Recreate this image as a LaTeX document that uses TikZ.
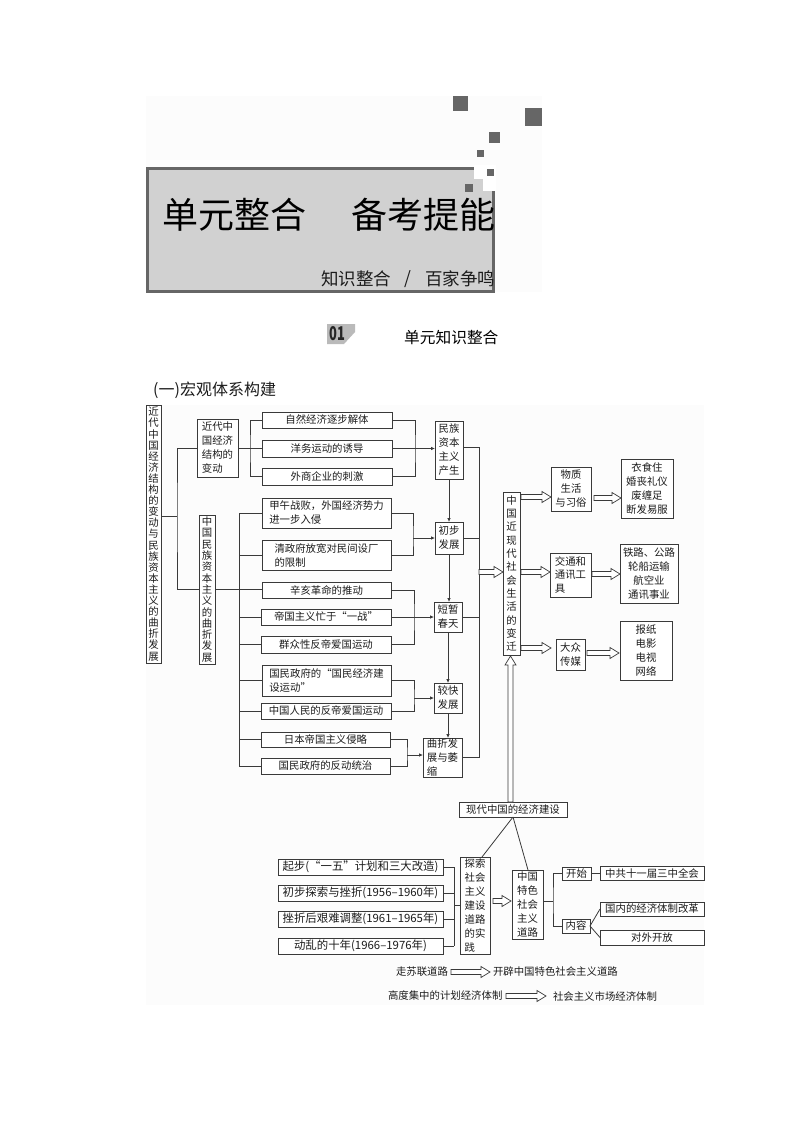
\documentclass[tikz,border=0pt]{standalone}
\usepackage{fontspec}
\setmainfont{Noto Sans CJK SC}
\usetikzlibrary{arrows.meta,calc}
\definecolor{ink}{HTML}{1C1C1C}
\definecolor{bord}{HTML}{3A3A3A}
\definecolor{sq}{HTML}{666666}
\tikzset{
  kb/.style={draw=bord,line width=.9pt,fill=white,inner sep=0pt,outer sep=0pt,align=center,text=ink,font=\fontsize{10.4}{14}\selectfont},
  vt/.style={font=\fontsize{10.4}{#1}\selectfont},
  wd/.style={font=\fontsize{11.4}{14}\selectfont},
  lab/.style={inner sep=0pt,outer sep=0pt,text=ink,font=\fontsize{10.4}{13}\selectfont},
  ln/.style={draw=bord,line width=.8pt},
  ar/.style={ln,-{Latex[length=4pt,width=3.6pt]}},
  hol/.style={draw=bord,line width=.7pt,fill=white},
  sqr/.style={fill=sq,draw=none}
}
\newcommand\kbox[7][]{\node[kb,minimum width={(#4-#2)*1pt},minimum height={(#5-#3)*1pt},#1] (#6) at ({(#2+#4)/2},{(#3+#5)/2}) {#7};}
\newcommand\harrow[2]{\draw[hol] let \p1=(#1),\p2=(#2),\n1={atan2(\y2-\y1,\x2-\x1)},\n2={veclen(\x2-\x1,\y2-\y1)} in [shift={(\p1)},rotate=\n1] (0pt,2.5pt) -- ({\n2*1pt-9pt},2.5pt) -- ({\n2*1pt-9pt},5.5pt) -- ({\n2*1pt},0pt) -- ({\n2*1pt-9pt},-5.5pt) -- ({\n2*1pt-9pt},-2.5pt) -- (0pt,-2.5pt) -- cycle;}
\begin{document}
\begin{tikzpicture}[x=1pt,y=-1pt]
\useasboundingbox (0,0) rectangle (794,1123);
\fill[white] (0,0) rectangle (794,1123);
\fill[black!1] (146,96) rectangle (542,292);
\fill[black!1] (146,405) rectangle (704,1005);
% banner
\draw[draw=sq,line width=3pt,fill=black!18] (147,168.5) rectangle (493.5,291.5);
\fill[white] (474,165) rectangle (496,179);
\fill[white] (483,179) rectangle (496,191);
\fill[sqr] (453,96) rectangle (468,111);
\fill[sqr] (525,108) rectangle (542,126);
\fill[sqr] (489,132) rectangle (500,143);
\fill[sqr] (477,150) rectangle (484,157);
\fill[sqr] (487,169) rectangle (494,176);
\fill[sqr] (465,184) rectangle (473,192);
\node[anchor=west,inner sep=0pt,text=black,font=\fontsize{36}{36}\selectfont] (title) at (162,215) {单元整合\hspace{45pt}备考提能};
\node[anchor=west,inner sep=0pt,text=ink,font=\fontsize{17.5}{18}\selectfont] (sub1) at (321,279) {知识整合};
\node[inner sep=0pt,text=ink,font=\fontsize{17.5}{18}\selectfont] (sub2) at (408,279) {/};
\node[anchor=west,inner sep=0pt,text=ink,font=\fontsize{17.5}{18}\selectfont] (sub3) at (425,279) {百家争鸣};
% section head
\fill[black!27] (327,324) -- (355,324) -- (355,332) -- (344,344) -- (327,344) -- cycle;
\node[inner sep=0pt,text=black!85,font=\fontsize{19}{19}\selectfont\bfseries,xscale=.68] (num) at (337,334) {01};
\node[anchor=west,inner sep=0pt,text=black,font=\fontsize{15.7}{16}\selectfont] (sec) at (404,338) {单元知识整合};
\node[anchor=west,inner sep=0pt,text=ink,font=\fontsize{16}{16}\selectfont] (sub) at (153,390) {(一)宏观体系构建};
% left column
\kbox[vt=11.1]{146}{405}{161}{663}{lc}{近\\代\\中\\国\\经\\济\\结\\构\\的\\变\\动\\与\\民\\族\\资\\本\\主\\义\\的\\曲\\折\\发\\展}
\kbox[align=left]{197}{419}{238}{477}{jgbox}{近代中\\国经济\\结构的\\变动}
\kbox[vt=11.3]{199}{515}{215}{664}{mz}{中\\国\\民\\族\\资\\本\\主\\义\\的\\曲\\折\\发\\展}
% reason boxes
\kbox{262}{412}{392}{428}{a1}{自然经济逐步解体}
\kbox{262}{440}{392}{457}{a2}{洋务运动的诱导}
\kbox{262}{468}{392}{485}{a3}{外商企业的刺激}
\kbox[align=left]{262}{498}{391}{528}{b1}{甲午战败，外国经济势力\\进一步入侵}
\kbox[align=left]{262}{540}{391}{570}{b2}{清政府放宽对民间设厂\\的限制}
\kbox{262}{582}{391}{598}{c1}{辛亥革命的推动}
\kbox{261}{609}{391}{625}{c2}{帝国主义忙于“一战”}
\kbox{261}{636}{391}{653}{c3}{群众性反帝爱国运动}
\kbox[align=left]{262}{665}{391}{696}{d1}{国民政府的“国民经济建\\设运动”}
\kbox{261}{703}{391}{719}{d2}{中国人民的反帝爱国运动}
\kbox{261}{732}{390}{747}{e1}{日本帝国主义侵略}
\kbox{261}{758}{390}{774}{e2}{国民政府的反动统治}
% stage boxes
\kbox{435}{421}{463}{479}{s1}{民族\\资本\\主义\\产生}
\kbox{435}{522}{463}{554}{s2}{初步\\发展}
\kbox{434}{602}{462}{632}{s3}{短暂\\春天}
\kbox{434}{683}{462}{713}{s4}{较快\\发展}
\kbox[align=left]{423}{738}{462}{777}{s5}{曲折发\\展与萎\\缩}
% centre and right
\kbox[vt=13.3]{503}{492}{520}{655}{zx}{中\\国\\近\\现\\代\\社\\会\\生\\活\\的\\变\\迁}
\kbox{551}{467}{591}{511}{r1}{物质\\生活\\与习俗}
\kbox{621}{459}{673}{518}{r1b}{衣食住\\婚丧礼仪\\废缠足\\断发易服}
\kbox[align=left]{550}{553}{591}{597}{r2}{交通和\\通讯工\\具}
\kbox{620}{544}{678}{603}{r2b}{铁路、公路\\轮船运输\\航空业\\通讯事业}
\kbox{556}{639}{585}{670}{r3}{大众\\传媒}
\kbox{620}{621}{672}{680}{r3b}{报纸\\电影\\电视\\网络}
% lower part
\kbox{459}{802}{567}{817}{xd}{现代中国的经济建设}
\kbox[wd]{278}{859}{443}{875}{f1}{起步(“一五”计划和三大改造)}
\kbox[wd]{278}{885}{443}{901}{f2}{初步探索与挫折(1956–1960年)}
\kbox[wd]{278}{911}{443}{927}{f3}{挫折后艰难调整(1961–1965年)}
\kbox[wd]{278}{938}{443}{954}{f4}{动乱的十年(1966–1976年)}
\kbox[align=left]{460}{857}{490}{954}{ts}{探索\\社会\\主义\\建设\\道路\\的实\\践}
\kbox{512}{870}{543}{939}{ts2}{中国\\特色\\社会\\主义\\道路}
\kbox{562}{867}{591}{880}{ks}{开始}
\kbox{562}{919}{590}{933}{nr}{内容}
\kbox{600}{866}{704}{880}{g1}{中共十一届三中全会}
\kbox{600}{902}{704}{916}{g2}{国内的经济体制改革}
\kbox{600}{930}{704}{945}{g3}{对外开放}
% free labels
\node[lab,anchor=west] (t1) at (396,972) {走苏联道路};
\node[lab,anchor=west] (t2) at (493,972) {开辟中国特色社会主义道路};
\node[lab,anchor=west] (t3) at (388,996) {高度集中的计划经济体制};
\node[lab,anchor=west] (t4) at (553,996) {社会主义市场经济体制};
% junctions
\coordinate (ja) at (177,516);
\coordinate (jb) at (250,449);
\coordinate (jc) at (415,449);
\coordinate (jd) at (239,511);
\coordinate (je) at (413,538);
\coordinate (jf) at (414,617);
\coordinate (jg) at (414,698);
\coordinate (jh) at (407,755);
\coordinate (ji) at (479,572);
\coordinate (jit) at (479,447);
\coordinate (jib) at (479,757);
\coordinate (jj) at (454,905);
\coordinate (jk) at (553,901);
\coordinate (jts) at (482,857);
\coordinate (jts2) at (528,870);
\coordinate (h1s) at (521,497);
\coordinate (h1e) at (551,497);
\coordinate (h2s) at (594,498);
\coordinate (h2e) at (621,498);
\coordinate (h3s) at (521,572);
\coordinate (h3e) at (550,572);
\coordinate (h4s) at (592,574);
\coordinate (h4e) at (620,574);
\coordinate (h5s) at (521,648);
\coordinate (h5e) at (551,648);
\coordinate (h6s) at (587,653);
\coordinate (h6e) at (619,653);
\coordinate (h7s) at (510.5,802);
\coordinate (h7e) at (510.5,656);
\coordinate (h8s) at (493,901);
\coordinate (h8e) at (511,901);
\coordinate (h9s) at (451,972);
\coordinate (h9e) at (490,972);
\coordinate (h10s) at (506,996);
\coordinate (h10e) at (546,996);
% upper-left tree
\draw[ln] (lc.east |- ja) -- (ja);
\draw[ln] (jgbox.west) -| (ja) |- (mz.west);
\draw[ln] (mz.east) -- (mz.east -| c1.west);
\draw[ln] (jgbox.east) -- (jgbox.east -| jb);
\draw[ln] (a1.west) -| (jb) |- (a3.west);
\draw[ln] (a2.west) -- (a2.west -| jb);
\draw[ln] (a1.east) -| (jc) |- (a3.east);
\draw[ar] (a2.east) -- (s1.west |- a2.east);
% second bus
\draw[ln] (b1.west -| jd) -- (e2.west -| jd);
\foreach \n in {b1,b2,c2,c3,d1,d2,e1,e2} \draw[ln] (\n.west) -- (\n.west -| jd);
% groups into stages
\draw[ln] (b1.east) -| (je) |- (b2.east);
\draw[ar] (je) -- (s2.west |- je);
\draw[ln] (c1.east) -| (jf) |- (c3.east);
\draw[ar] (c2.east) -- (s3.west |- c2.east);
\draw[ln] (d1.east) -| (jg) |- (d2.east);
\draw[ar] (jg) -- (s4.west |- jg);
\draw[ln] (e1.east) -| (jh) |- (e2.east);
\draw[ar] (jh) -- (s5.west |- jh);
% stage chain
\draw[ar] (s1.south) -- (s2.north);
\draw[ar] (s2.south) -- (s2.south |- s3.north);
\draw[ar] (s3.south) -- (s4.north);
\draw[ar] (s4.south) -- (s4.south |- s5.north);
% right bus
\draw[ln] (s1.east |- jit) -- (jit) -- (jib) -- (s5.east |- jib);
\draw[ln] (s2.east) -- (s2.east -| ji);
\draw[ln] (s3.east) -- (s3.east -| ji);
% hollow arrows
\harrow{ji}{zx.west |- ji}
\harrow{h1s}{h1e}
\harrow{h2s}{h2e}
\harrow{h3s}{h3e}
\harrow{h4s}{h4e}
\harrow{h5s}{h5e}
\harrow{h6s}{h6e}
\harrow{h7s}{h7e}
\harrow{h8s}{h8e}
\harrow{h9s}{h9e}
\harrow{h10s}{h10e}
% lower tree
\draw[ln] (xd.south) -- (jts);
\draw[ln] (xd.south) -- (jts2);
\draw[ln] (f1.east -| jj) -- (f4.east -| jj);
\foreach \n in {f1,f2,f3,f4} \draw[ln] (\n.east) -- (\n.east -| jj);
\draw[ln] (jj) -- (ts.west |- jj);
\draw[ln] (ts2.east |- jk) -- (jk);
\draw[ln] (ks.west) -| (jk) |- (nr.west);
\draw[ln] (ks.east) -- (g1.west |- ks.east);
\draw[ln] (nr.east) -- (g2.west);
\draw[ln] (nr.east) -- (g3.west);
\end{tikzpicture}
\end{document}
